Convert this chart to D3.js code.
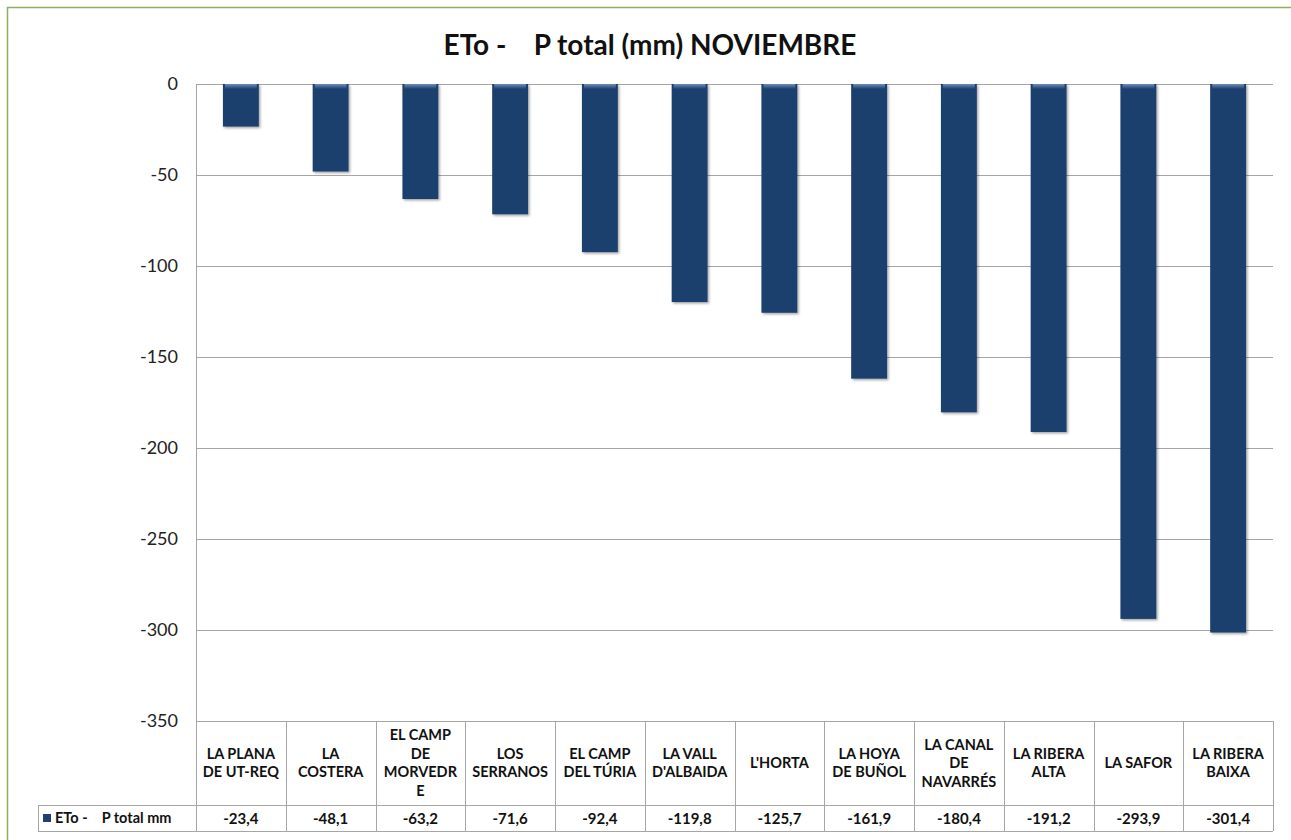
<!DOCTYPE html>
<html>
<head>
<meta charset="utf-8">
<script src="https://cdn.jsdelivr.net/npm/d3@7"></script>
<style>
  body { margin: 0; background: #fff; }
  svg { display: block; font-family: Lato, "Open Sans", sans-serif; }
</style>
</head>
<body>
<svg id="chart" width="1291" height="840"></svg>
<script>
// data
var comarcas = [
  ["LA PLANA", "DE UT-REQ"],
  ["LA", "COSTERA"],
  ["EL CAMP", "DE", "MORVEDR", "E"],
  ["LOS", "SERRANOS"],
  ["EL CAMP", "DEL TÚRIA"],
  ["LA VALL", "D'ALBAIDA"],
  ["L'HORTA"],
  ["LA HOYA", "DE BUÑOL"],
  ["LA CANAL", "DE", "NAVARRÉS"],
  ["LA RIBERA", "ALTA"],
  ["LA SAFOR"],
  ["LA RIBERA", "BAIXA"]
];
var valores = [-23.4, -48.1, -63.2, -71.6, -92.4, -119.8, -125.7, -161.9, -180.4, -191.2, -293.9, -301.4];
var yTicks = [0, -50, -100, -150, -200, -250, -300, -350];
var titulo = "ETo -    P total (mm) NOVIEMBRE";
var serie = "ETo -    P total mm";

var svg = d3.select("#chart");
var W = 1291, H = 840;
var plot = {left: 196, right: 1273, top: 84, bottom: 721};
var tableBottom = 831, headerBottom = 805, legendLeft = 38;
var barColor = "#1f3f6e";

// outer frame
svg.append("rect").attr("x", 7.5).attr("y", 7.5).attr("width", W + 10).attr("height", H + 10)
    .attr("fill", "#fff").attr("stroke", "#8fb05a").attr("stroke-width", 1.5);

var idx = d3.range(valores.length);
var x = d3.scaleBand().domain(idx).range([plot.left, plot.right]).paddingInner(0).paddingOuter(0);
var y = d3.scaleLinear().domain([0, -350]).range([plot.top, plot.bottom]);

// gridlines
svg.append("g").selectAll("line").data(yTicks).enter().append("line")
    .attr("x1", plot.left).attr("x2", plot.right)
    .attr("y1", d => Math.round(y(d)) + 0.5).attr("y2", d => Math.round(y(d)) + 0.5)
    .attr("stroke", "#a6a6a6").attr("stroke-width", 1);
// left axis line
svg.append("line").attr("x1", plot.left + 0.5).attr("x2", plot.left + 0.5)
    .attr("y1", plot.top).attr("y2", plot.bottom).attr("stroke", "#a6a6a6");

// y tick labels
svg.append("g").selectAll("text").data(yTicks).enter().append("text")
    .attr("x", plot.left - 18).attr("y", d => y(d) + 6)
    .attr("text-anchor", "end").attr("font-size", 18).attr("fill", "#222")
    .text(d => d);

// gradient for bars
var defs = svg.append("defs");
var grad = defs.append("linearGradient").attr("id", "barTop").attr("x1", 0).attr("x2", 0).attr("y1", 0).attr("y2", 1);
grad.append("stop").attr("offset", "0%").attr("stop-color", "#6f8db8");
grad.append("stop").attr("offset", "100%").attr("stop-color", barColor);
var sh = defs.append("filter").attr("id", "shadow").attr("x", "-20%").attr("y", "-5%").attr("width", "150%").attr("height", "115%");
sh.append("feDropShadow").attr("dx", 1.5).attr("dy", 1.5).attr("stdDeviation", 1.2).attr("flood-color", "#000").attr("flood-opacity", 0.35);

var bw = x.bandwidth() * 0.4;
var bars = svg.append("g").selectAll("g").data(valores).enter().append("g");
bars.append("rect")
    .attr("x", (d, i) => x(i) + (x.bandwidth() - bw) / 2)
    .attr("y", y(0))
    .attr("width", bw)
    .attr("height", d => y(d) - y(0))
    .attr("fill", barColor)
    .attr("filter", "url(#shadow)");
bars.append("rect")
    .attr("x", (d, i) => x(i) + (x.bandwidth() - bw) / 2 + 2)
    .attr("y", y(0))
    .attr("width", bw - 4)
    .attr("height", 5)
    .attr("fill", "url(#barTop)");

// title
svg.append("text").attr("x", 650).attr("y", 55).attr("text-anchor", "middle")
    .attr("font-size", 28).attr("font-weight", "bold").attr("fill", "#111")
    .attr("xml:space", "preserve").style("white-space", "pre")
    .text(titulo);

// data table
var tbl = svg.append("g").attr("stroke", "#a6a6a6").attr("fill", "none");
tbl.append("line").attr("x1", plot.left).attr("x2", plot.right).attr("y1", plot.bottom + 0.5).attr("y2", plot.bottom + 0.5);
tbl.append("line").attr("x1", legendLeft).attr("x2", plot.right).attr("y1", headerBottom + 0.5).attr("y2", headerBottom + 0.5);
tbl.append("line").attr("x1", legendLeft).attr("x2", plot.right).attr("y1", tableBottom + 0.5).attr("y2", tableBottom + 0.5);
tbl.append("line").attr("x1", legendLeft + 0.5).attr("x2", legendLeft + 0.5).attr("y1", headerBottom).attr("y2", tableBottom);
tbl.selectAll("line.v").data(idx.concat([valores.length])).enter().append("line")
    .attr("class", "v")
    .attr("x1", i => Math.round(i < valores.length ? x(i) : plot.right) + 0.5)
    .attr("x2", i => Math.round(i < valores.length ? x(i) : plot.right) + 0.5)
    .attr("y1", plot.bottom).attr("y2", tableBottom);

// category headers
var lh = 18.5;
var heads = svg.append("g").selectAll("text").data(comarcas).enter().append("text")
    .attr("text-anchor", "middle").attr("font-size", 14.5).attr("font-weight", "bold").attr("fill", "#111");
heads.each(function (lines, i) {
    var cy = (plot.bottom + headerBottom) / 2;
    var y0 = cy - (lines.length - 1) * lh / 2 + 5;
    d3.select(this).selectAll("tspan").data(lines).enter().append("tspan")
        .attr("x", x(i) + x.bandwidth() / 2)
        .attr("y", (d, j) => y0 + j * lh)
        .text(d => d);
});

// values row
var fmt = d => d.toFixed(1).replace(".", ",");
svg.append("g").selectAll("text").data(valores).enter().append("text")
    .attr("x", (d, i) => x(i) + x.bandwidth() / 2)
    .attr("y", (headerBottom + tableBottom) / 2 + 5.5)
    .attr("text-anchor", "middle").attr("font-size", 15).attr("font-weight", "bold").attr("fill", "#111")
    .text(fmt);

// legend cell
svg.append("rect").attr("x", legendLeft + 5).attr("y", (headerBottom + tableBottom) / 2 - 4)
    .attr("width", 8).attr("height", 8).attr("fill", barColor);
svg.append("text").attr("x", legendLeft + 17).attr("y", (headerBottom + tableBottom) / 2 + 5)
    .attr("font-size", 14.5).attr("font-weight", "bold").attr("fill", "#111")
    .attr("xml:space", "preserve").style("white-space", "pre")
    .text(serie);
</script>
</body>
</html>
